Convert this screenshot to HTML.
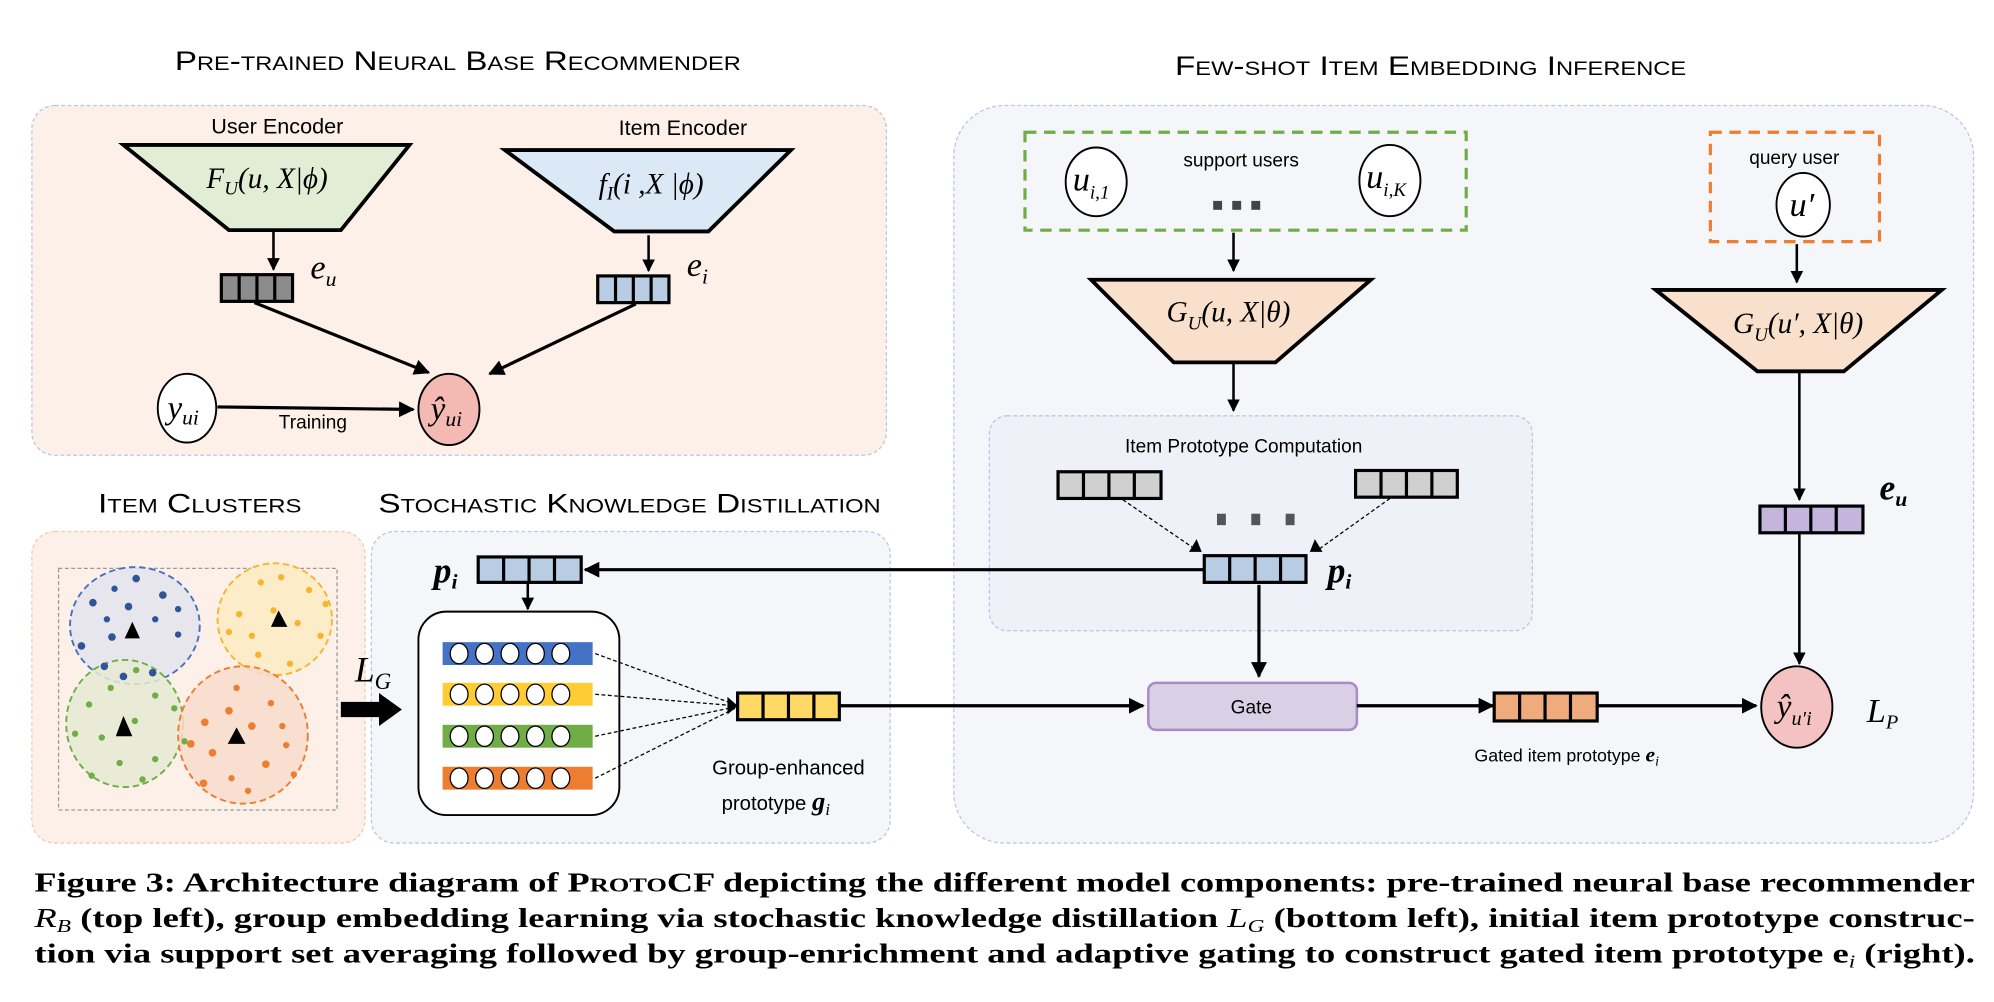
<!DOCTYPE html>
<html><head><meta charset="utf-8"><style>
html,body{margin:0;padding:0;background:#fff}
svg{display:block}
text{font-family:"Liberation Sans",sans-serif}
text.m,tspan.m{font-family:"Liberation Serif",serif;font-style:italic}
.cap text{font-family:"Liberation Serif",serif;font-weight:bold}
</style></head><body>
<svg width="1994" height="1002" viewBox="0 0 1568 788" xmlns="http://www.w3.org/2000/svg">
<defs>
<marker id="a" viewBox="0 0 10 10" refX="9" refY="5" markerWidth="5" markerHeight="5" orient="auto-start-reverse"><path d="M0,0 L10,5 L0,10 z" fill="#000"/></marker>
</defs>
<!-- titles -->
<text x="360" y="55" font-size="21" text-anchor="middle" style="font-variant:small-caps" textLength="445" lengthAdjust="spacingAndGlyphs">Pre-trained Neural Base Recommender</text>
<text x="1125" y="59" font-size="21" text-anchor="middle" style="font-variant:small-caps" textLength="402" lengthAdjust="spacingAndGlyphs">Few-shot Item Embedding Inference</text>
<text x="157" y="403" font-size="21" text-anchor="middle" style="font-variant:small-caps" textLength="160" lengthAdjust="spacingAndGlyphs">Item Clusters</text>
<text x="495" y="403" font-size="21" text-anchor="middle" style="font-variant:small-caps" textLength="395" lengthAdjust="spacingAndGlyphs">Stochastic Knowledge Distillation</text>

<!-- panels -->
<rect x="25" y="83" width="672" height="275" rx="18" fill="#fdf0e8" stroke="#b8c8e0" stroke-dasharray="3,2"/>
<rect x="25" y="418" width="262" height="245" rx="18" fill="#fdf0e8" stroke="#f3c9b0" stroke-dasharray="3,2"/>
<rect x="292" y="418" width="408" height="245" rx="18" fill="#f5f6fa" stroke="#b8c8e0" stroke-dasharray="3,2"/>
<rect x="750" y="83" width="802" height="580" rx="40" fill="#f5f6fa" stroke="#b8c8e0" stroke-dasharray="3,2"/>
<rect x="778" y="327" width="427" height="169" rx="14" fill="#eef1f8" stroke="#b8c8e0" stroke-dasharray="3,2"/>

<!-- top-left -->
<text x="218" y="105" font-size="17" text-anchor="middle">User Encoder</text>
<text x="537" y="106" font-size="17" text-anchor="middle">Item Encoder</text>
<polygon points="97,114 322,114 268,181 180,181" fill="#e2edd6" stroke="#000" stroke-width="3"/>
<polygon points="397,118 622,118 557,182 483,182" fill="#dbe8f5" stroke="#000" stroke-width="3"/>
<text x="210" y="148" font-size="23" text-anchor="middle" class="m">F<tspan font-size="15" dy="5">U</tspan><tspan dy="-5">(u, X|ϕ)</tspan></text>
<text x="512" y="152" font-size="23" text-anchor="middle" class="m">f<tspan font-size="15" dy="5">I</tspan><tspan dy="-5">(i ,X |ϕ)</tspan></text>
<line x1="215" y1="181" x2="215" y2="212" stroke="#000" stroke-width="2" marker-end="url(#a)"/>
<line x1="510" y1="185" x2="510" y2="213" stroke="#000" stroke-width="2" marker-end="url(#a)"/>
<g stroke="#000" stroke-width="2.5"><rect x="174" y="216" width="56" height="21" fill="#8c8c8c"/><line x1="188" y1="216" x2="188" y2="237"/><line x1="202" y1="216" x2="202" y2="237"/><line x1="216" y1="216" x2="216" y2="237"/></g>
<g stroke="#000" stroke-width="2.5"><rect x="470" y="217" width="56" height="21" fill="#b8cce4"/><line x1="484" y1="217" x2="484" y2="238"/><line x1="498" y1="217" x2="498" y2="238"/><line x1="512" y1="217" x2="512" y2="238"/></g>
<text x="244" y="219" font-size="27" class="m">e<tspan font-size="17" dy="6">u</tspan></text>
<text x="540" y="217" font-size="27" class="m">e<tspan font-size="17" dy="6">i</tspan></text>
<line x1="200" y1="238" x2="337" y2="293" stroke="#000" stroke-width="2.5" marker-end="url(#a)"/>
<line x1="500" y1="239" x2="385" y2="294" stroke="#000" stroke-width="2.5" marker-end="url(#a)"/>
<ellipse cx="147" cy="321" rx="23" ry="27" fill="#fff" stroke="#000" stroke-width="1.5"/>
<text x="144" y="329" font-size="26" text-anchor="middle" class="m">y<tspan font-size="17" dy="5">ui</tspan></text>
<ellipse cx="353" cy="322" rx="24" ry="28" fill="#f4b9b2" stroke="#000" stroke-width="1.5"/>
<text x="351" y="330" font-size="26" text-anchor="middle" class="m">ŷ<tspan font-size="17" dy="5">ui</tspan></text>
<line x1="171" y1="320" x2="325" y2="322" stroke="#000" stroke-width="2.5" marker-end="url(#a)"/>
<text x="246" y="337" font-size="15" text-anchor="middle">Training</text>

<!-- clusters -->
<rect x="46" y="447" width="219" height="190" fill="none" stroke="#999" stroke-dasharray="3,2"/>
<ellipse cx="106" cy="492" rx="51" ry="46" fill="#e4e4ec" fill-opacity="0.9" stroke="#4472c4" stroke-width="1.5" stroke-dasharray="5,3"/>
<ellipse cx="216" cy="487" rx="45" ry="44" fill="#fdecc8" stroke="#f5b52e" stroke-width="1.5" stroke-dasharray="5,3"/>
<ellipse cx="98" cy="569" rx="46" ry="50" fill="#e6ead2" fill-opacity="0.85" stroke="#70ad47" stroke-width="1.5" stroke-dasharray="5,3"/>
<ellipse cx="191" cy="578" rx="51" ry="54" fill="#f8dccb" fill-opacity="0.85" stroke="#ed7d31" stroke-width="1.5" stroke-dasharray="5,3"/>
<g fill="#2f5597">
<circle cx="107" cy="455" r="3"/><circle cx="90" cy="463" r="2.5"/><circle cx="128" cy="468" r="3"/><circle cx="73" cy="474" r="3"/><circle cx="101" cy="477" r="3"/><circle cx="84" cy="487" r="2.5"/><circle cx="122" cy="487" r="2.5"/><circle cx="140" cy="479" r="2.5"/><circle cx="88" cy="501" r="3"/><circle cx="140" cy="499" r="2.5"/><circle cx="64" cy="508" r="3"/><circle cx="82" cy="524" r="3"/><circle cx="97" cy="532" r="3"/><circle cx="120" cy="529" r="3"/>
</g>
<g fill="#f5b52e">
<circle cx="205" cy="458" r="2.5"/><circle cx="221" cy="454" r="2.5"/><circle cx="243" cy="464" r="2.5"/><circle cx="188" cy="483" r="2.5"/><circle cx="215" cy="480" r="2.5"/><circle cx="198" cy="500" r="2.5"/><circle cx="234" cy="490" r="2.5"/><circle cx="256" cy="475" r="2.5"/><circle cx="180" cy="497" r="2.5"/><circle cx="203" cy="515" r="2.5"/><circle cx="228" cy="522" r="2.5"/><circle cx="252" cy="500" r="2.5"/>
</g>
<g fill="#70ad47">
<circle cx="107" cy="527" r="2.5"/><circle cx="87" cy="541" r="2.5"/><circle cx="122" cy="547" r="2.5"/><circle cx="70" cy="554" r="2.5"/><circle cx="106" cy="567" r="2.5"/><circle cx="137" cy="557" r="2.5"/><circle cx="59" cy="577" r="2.5"/><circle cx="80" cy="580" r="2.5"/><circle cx="145" cy="583" r="2.5"/><circle cx="94" cy="600" r="2.5"/><circle cx="122" cy="597" r="2.5"/><circle cx="72" cy="610" r="2.5"/><circle cx="112" cy="613" r="2.5"/>
</g>
<g fill="#ed7d31">
<circle cx="186" cy="541" r="2.5"/><circle cx="180" cy="559" r="3"/><circle cx="213" cy="553" r="2.5"/><circle cx="161" cy="568" r="3"/><circle cx="198" cy="571" r="3"/><circle cx="222" cy="571" r="2.5"/><circle cx="150" cy="585" r="3"/><circle cx="167" cy="592" r="3"/><circle cx="225" cy="586" r="2.5"/><circle cx="209" cy="601" r="3"/><circle cx="182" cy="612" r="2.5"/><circle cx="160" cy="616" r="3"/><circle cx="195" cy="622" r="2.5"/><circle cx="231" cy="609" r="2.5"/>
</g>
<g fill="#000"><path d="M98,502 L110,502 L104,489 z"/><path d="M213,493 L226,493 L219,480 z"/><path d="M91,579 L104,579 L97,563 z"/><path d="M179,585 L193,585 L186,572 z"/></g>
<text x="279" y="536" font-size="28" class="m">L<tspan font-size="18" dy="6">G</tspan></text>
<path d="M268,552 L298,552 L298,545 L316,558 L298,571 L298,564 L268,564 z" fill="#000"/>

<!-- SKD -->
<text x="341" y="458" font-size="28" class="m" font-weight="bold">p<tspan font-size="17" dy="5">i</tspan></text>
<g stroke="#000" stroke-width="2.5"><rect x="376" y="438" width="81" height="20" fill="#b8cce4"/><line x1="396" y1="438" x2="396" y2="458"/><line x1="416" y1="438" x2="416" y2="458"/><line x1="436" y1="438" x2="436" y2="458"/></g>
<line x1="947" y1="448" x2="460" y2="448" stroke="#000" stroke-width="2.5" marker-end="url(#a)"/>
<line x1="415" y1="458" x2="415" y2="479" stroke="#000" stroke-width="2" marker-end="url(#a)"/>
<rect x="329" y="481" width="158" height="160" rx="22" fill="#fff" stroke="#000" stroke-width="1.5"/>
<g>
<rect x="348" y="505" width="118" height="18" fill="#4472c4"/>
<rect x="348" y="537" width="118" height="18" fill="#ffc000" fill-opacity="0.8"/>
<rect x="348" y="570" width="118" height="18" fill="#70ad47"/>
<rect x="348" y="603" width="118" height="18" fill="#ed7d31"/>
</g>
<g fill="#fff" stroke="#000" stroke-width="1">
<ellipse cx="361" cy="514" rx="7" ry="8"/><ellipse cx="381" cy="514" rx="7" ry="8"/><ellipse cx="401" cy="514" rx="7" ry="8"/><ellipse cx="421" cy="514" rx="7" ry="8"/><ellipse cx="441" cy="514" rx="7" ry="8"/>
<ellipse cx="361" cy="546" rx="7" ry="8"/><ellipse cx="381" cy="546" rx="7" ry="8"/><ellipse cx="401" cy="546" rx="7" ry="8"/><ellipse cx="421" cy="546" rx="7" ry="8"/><ellipse cx="441" cy="546" rx="7" ry="8"/>
<ellipse cx="361" cy="579" rx="7" ry="8"/><ellipse cx="381" cy="579" rx="7" ry="8"/><ellipse cx="401" cy="579" rx="7" ry="8"/><ellipse cx="421" cy="579" rx="7" ry="8"/><ellipse cx="441" cy="579" rx="7" ry="8"/>
<ellipse cx="361" cy="612" rx="7" ry="8"/><ellipse cx="381" cy="612" rx="7" ry="8"/><ellipse cx="401" cy="612" rx="7" ry="8"/><ellipse cx="421" cy="612" rx="7" ry="8"/><ellipse cx="441" cy="612" rx="7" ry="8"/>
</g>
<g stroke="#000" stroke-width="1" stroke-dasharray="3,2">
<line x1="468" y1="514" x2="578" y2="554"/><line x1="468" y1="546" x2="578" y2="555"/><line x1="468" y1="579" x2="578" y2="556"/><line x1="468" y1="612" x2="578" y2="557"/>
</g>
<path d="M572,548 L580,555 L572,562 z" fill="#000"/>
<g stroke="#000" stroke-width="2.5"><rect x="580" y="545" width="80" height="21" fill="#ffd966"/><line x1="600" y1="545" x2="600" y2="566"/><line x1="620" y1="545" x2="620" y2="566"/><line x1="640" y1="545" x2="640" y2="566"/></g>
<text x="620" y="609" font-size="16" text-anchor="middle">Group-enhanced</text>
<text x="610" y="637" font-size="16" text-anchor="middle">prototype <tspan class="m" font-weight="bold" font-size="21">g</tspan><tspan class="m" font-size="13" dy="4">i</tspan></text>
<line x1="660" y1="555" x2="899" y2="555" stroke="#000" stroke-width="2.5" marker-end="url(#a)"/>

<!-- right -->
<rect x="806" y="104" width="347" height="77" fill="none" stroke="#70ad47" stroke-width="2.5" stroke-dasharray="9,6"/>
<ellipse cx="862" cy="143" rx="24" ry="27" fill="#fff" stroke="#000" stroke-width="1.5"/>
<text x="858" y="150" font-size="27" text-anchor="middle" class="m">u<tspan font-size="15" dy="6">i,1</tspan></text>
<ellipse cx="1093" cy="142" rx="24" ry="28" fill="#fff" stroke="#000" stroke-width="1.5"/>
<text x="1090" y="148" font-size="27" text-anchor="middle" class="m">u<tspan font-size="15" dy="6">i,K</tspan></text>
<text x="976" y="131" font-size="15" text-anchor="middle">support users</text>
<g fill="#444"><rect x="954" y="158" width="7" height="7"/><rect x="969" y="158" width="7" height="7"/><rect x="984" y="158" width="7" height="7"/></g>
<line x1="970" y1="183" x2="970" y2="213" stroke="#000" stroke-width="2" marker-end="url(#a)"/>
<polygon points="858,220 1078,220 1003,285 923,285" fill="#f8e0cd" stroke="#000" stroke-width="3"/>
<text x="966" y="253" font-size="23" text-anchor="middle" class="m">G<tspan font-size="15" dy="6">U</tspan><tspan dy="-6">(u, X|θ)</tspan></text>
<line x1="970" y1="286" x2="970" y2="323" stroke="#000" stroke-width="2" marker-end="url(#a)"/>
<text x="978" y="356" font-size="15" text-anchor="middle">Item Prototype Computation</text>
<g stroke="#000" stroke-width="2.5"><rect x="832" y="371" width="81" height="21" fill="#d0d0d0"/><line x1="852" y1="371" x2="852" y2="392"/><line x1="872" y1="371" x2="872" y2="392"/><line x1="892" y1="371" x2="892" y2="392"/></g>
<g stroke="#000" stroke-width="2.5"><rect x="1066" y="370" width="80" height="21" fill="#d0d0d0"/><line x1="1086" y1="370" x2="1086" y2="391"/><line x1="1106" y1="370" x2="1106" y2="391"/><line x1="1126" y1="370" x2="1126" y2="391"/></g>
<g stroke="#000" stroke-width="1" stroke-dasharray="3,2"><line x1="883" y1="393" x2="940" y2="432"/><line x1="1093" y1="392" x2="1037" y2="432"/></g>
<path d="M935,434 L945,434 L941,424 z" fill="#000"/><path d="M1030,434 L1040,434 L1034,424 z" fill="#000"/>
<g fill="#555"><rect x="957" y="404" width="7" height="9"/><rect x="984" y="404" width="7" height="9"/><rect x="1011" y="404" width="7" height="9"/></g>
<g stroke="#000" stroke-width="2.5"><rect x="947" y="437" width="80" height="21" fill="#b8cce4"/><line x1="967" y1="437" x2="967" y2="458"/><line x1="987" y1="437" x2="987" y2="458"/><line x1="1007" y1="437" x2="1007" y2="458"/></g>
<text x="1044" y="458" font-size="28" class="m" font-weight="bold">p<tspan font-size="17" dy="5">i</tspan></text>
<line x1="990" y1="460" x2="990" y2="532" stroke="#000" stroke-width="2.5" marker-end="url(#a)"/>
<rect x="903" y="537" width="164" height="37" rx="6" fill="#d9d0e6" stroke="#a98cc5" stroke-width="2"/>
<text x="984" y="561" font-size="15" text-anchor="middle">Gate</text>
<line x1="1067" y1="555" x2="1174" y2="555" stroke="#000" stroke-width="2.5" marker-end="url(#a)"/>
<g stroke="#000" stroke-width="2.5"><rect x="1175" y="545" width="81" height="22" fill="#f0ab7c"/><line x1="1195" y1="545" x2="1195" y2="567"/><line x1="1215" y1="545" x2="1215" y2="567"/><line x1="1235" y1="545" x2="1235" y2="567"/></g>
<line x1="1256" y1="555" x2="1381" y2="555" stroke="#000" stroke-width="2.5" marker-end="url(#a)"/>
<text x="1232" y="599" font-size="14" text-anchor="middle">Gated item prototype <tspan class="m" font-weight="bold" font-size="17">e</tspan><tspan class="m" font-size="11" dy="3">i</tspan></text>

<rect x="1345" y="104" width="133" height="86" fill="none" stroke="#ed7d31" stroke-width="2.5" stroke-dasharray="9,6"/>
<text x="1411" y="129" font-size="15" text-anchor="middle">query user</text>
<ellipse cx="1418" cy="161" rx="21" ry="25" fill="#fff" stroke="#000" stroke-width="1.5"/>
<text x="1417" y="170" font-size="27" text-anchor="middle" class="m">u′</text>
<line x1="1413" y1="192" x2="1413" y2="222" stroke="#000" stroke-width="2" marker-end="url(#a)"/>
<polygon points="1302,228 1527,228 1450,292 1382,292" fill="#f8e0cd" stroke="#000" stroke-width="3"/>
<text x="1414" y="262" font-size="23" text-anchor="middle" class="m">G<tspan font-size="15" dy="6">U</tspan><tspan dy="-6">(u′, X|θ)</tspan></text>
<line x1="1415" y1="292" x2="1415" y2="393" stroke="#000" stroke-width="2" marker-end="url(#a)"/>
<text x="1478" y="393" font-size="28" class="m" font-weight="bold">e<tspan font-size="17" dy="5">u</tspan></text>
<g stroke="#000" stroke-width="2.5"><rect x="1384" y="398" width="81" height="21" fill="#c5b4dc"/><line x1="1404" y1="398" x2="1404" y2="419"/><line x1="1424" y1="398" x2="1424" y2="419"/><line x1="1444" y1="398" x2="1444" y2="419"/></g>
<line x1="1415" y1="420" x2="1415" y2="522" stroke="#000" stroke-width="2" marker-end="url(#a)"/>
<ellipse cx="1413" cy="556" rx="28" ry="32" fill="#f4c2c2" stroke="#000" stroke-width="1.5"/>
<text x="1411" y="564" font-size="26" text-anchor="middle" class="m">ŷ<tspan font-size="16" dy="6">u′i</tspan></text>
<text x="1468" y="568" font-size="27" class="m">L<tspan font-size="16" dy="5">P</tspan></text>

<!-- caption -->
<g class="cap" font-size="22">
<text x="27" y="701" textLength="1526" lengthAdjust="spacingAndGlyphs">Figure 3: Architecture diagram of P<tspan font-size="16">ROTO</tspan>CF depicting the different model components: pre-trained neural base recommender</text>
<text x="27" y="729" textLength="1526" lengthAdjust="spacingAndGlyphs"><tspan font-style="italic" font-weight="normal">R</tspan><tspan font-style="italic" font-weight="normal" font-size="14" dy="4">B</tspan><tspan dy="-4"> (top left), group embedding learning via stochastic knowledge distillation </tspan><tspan font-style="italic" font-weight="normal">L</tspan><tspan font-style="italic" font-weight="normal" font-size="14" dy="4">G</tspan><tspan dy="-4"> (bottom left), initial item prototype construc-</tspan></text>
<text x="27" y="757" textLength="1526" lengthAdjust="spacingAndGlyphs">tion via support set averaging followed by group-enrichment and adaptive gating to construct gated item prototype e<tspan font-style="italic" font-weight="normal" font-size="14" dy="4">i</tspan><tspan dy="-4"> (right).</tspan></text>
</g>
</svg>
</body></html>
